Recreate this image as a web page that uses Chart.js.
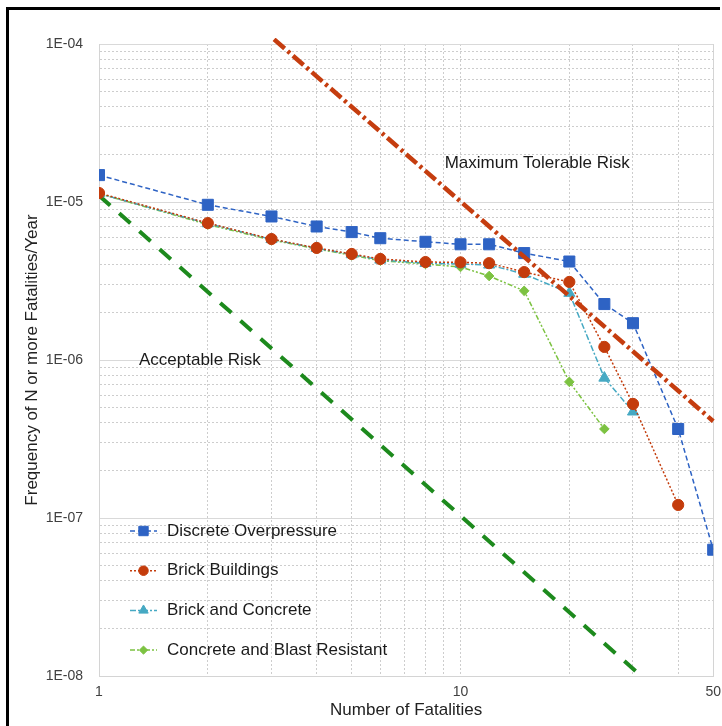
<!DOCTYPE html>
<html lang="en">

<head>
    <meta charset="UTF-8">
    <title>F-N Curve</title>
    <script src="https://cdn.jsdelivr.net/npm/chart.js"></script>
    <style>
        body {
            margin: 0;
            background: #fff;
        }

        .frame {
            position: absolute;
            left: 6px;
            top: 7px;
            width: 711px;
            height: 730px;
            border-top: 3px solid #000;
            border-left: 3px solid #000;
        }

        #chart {
            position: absolute;
            left: 0;
            top: 0;
        }
    </style>
</head>

<body>
    <div class="frame"></div>
    <canvas id="chart" width="722" height="726"></canvas>

    <script>
        // number of fatalities (x) for each point
        const nValues = [1, 2, 3, 4, 5, 6, 8, 10, 12, 15, 20, 25, 30, 40, 50];

        // frequencies
        const discreteOverpressure = [1.48e-5, 9.6e-6, 8.1e-6, 7.0e-6, 6.45e-6, 5.9e-6, 5.6e-6, 5.4e-6, 5.4e-6, 4.75e-6, 4.2e-6, 2.26e-6, 1.71e-6, 3.66e-7, 6.3e-8];
        const brickBuildings = [1.14e-5, 7.35e-6, 5.83e-6, 5.12e-6, 4.69e-6, 4.36e-6, 4.17e-6, 4.15e-6, 4.1e-6, 3.6e-6, 3.12e-6, 1.21e-6, 5.27e-7, 1.21e-7];
        const brickAndConcrete = [1.13e-5, 7.3e-6, 5.8e-6, 5.1e-6, 4.65e-6, 4.3e-6, 4.1e-6, 4.05e-6, 4.0e-6, 3.5e-6, 2.65e-6, 7.7e-7, 4.7e-7];
        const concreteBlast = [1.13e-5, 7.2e-6, 5.75e-6, 5.05e-6, 4.6e-6, 4.25e-6, 4.05e-6, 3.88e-6, 3.4e-6, 2.74e-6, 7.27e-7, 3.66e-7];

        // criterion lines (end points)
        const maxTolerableN = [3.05, 50];
        const maxTolerableF = [1.07e-4, 4.1e-7];
        const acceptableN = [1, 31.6];
        const acceptableF = [1.1e-5, 1.0e-8];

        // axis ticks
        const xTicks = [1, 2, 3, 4, 5, 6, 7, 8, 9, 10, 20, 30, 40, 50];
        const xTickLabels = { 1: "1", 10: "10", 50: "50" };
        const yDecades = [1e-8, 1e-7, 1e-6, 1e-5, 1e-4];
        const yTickLabels = ["1E-08", "1E-07", "1E-06", "1E-05", "1E-04"];

        const FONT = "'Liberation Sans', Arial, sans-serif";

        function toPoints(xs, ys) {
            return ys.map((y, i) => ({ x: xs[i], y: y }));
        }

        function yTickList() {
            const out = [];
            for (let d = 0; d < yDecades.length - 1; d++) {
                for (let k = 1; k <= 9; k++) out.push(yDecades[d] * k);
            }
            out.push(yDecades[yDecades.length - 1]);
            return out;
        }

        function isDecade(v) {
            const l = Math.log10(v);
            return Math.abs(l - Math.round(l)) < 1e-6;
        }

        const seriesDefs = [
            { label: "Discrete Overpressure", data: discreteOverpressure, color: "#2e63c4", dash: [5, 3], style: "rect", radius: 7.8 },
            { label: "Brick Buildings", data: brickBuildings, color: "#c43c0c", dash: [2, 2], style: "circle", radius: 5.6 },
            { label: "Brick and Concrete", data: brickAndConcrete, color: "#46a9c3", dash: [6, 2, 2, 2], style: "triangle", radius: 6.4 },
            { label: "Concrete and Blast Resistant", data: concreteBlast, color: "#7cc241", dash: [5, 2, 2, 2, 2, 2], style: "rectRot", radius: 4.8 },
        ];

        const datasets = [{
            label: "Maximum Tolerable Risk",
            data: toPoints(maxTolerableN, maxTolerableF),
            borderColor: "#c53d0f",
            borderWidth: 4.5,
            borderDash: [14, 4, 3, 4],
            pointRadius: 0,
            fill: false,
            clip: 6,
        }];
        seriesDefs.forEach((s) => {
            datasets.push({
                label: s.label,
                data: toPoints(nValues, s.data),
                borderColor: s.color,
                backgroundColor: s.color,
                borderWidth: 1.5,
                borderDash: s.dash,
                pointStyle: s.style,
                pointRadius: s.radius,
                pointHoverRadius: s.radius,
                pointBackgroundColor: s.color,
                pointBorderColor: s.color,
                pointBorderWidth: 1,
                fill: false,
                tension: 0,
                isSeries: true,
            });
        });
        datasets.push({
            label: "Acceptable Risk",
            data: toPoints(acceptableN, acceptableF),
            borderColor: "#1d8a1d",
            borderWidth: 4,
            borderDash: [15, 12],
            pointRadius: 0,
            fill: false,
        });

        // text labels on the criterion lines, in data coordinates
        const notes = [
            { text: "Maximum Tolerable Risk", n: 9.04, f: 1.77e-5 },
            { text: "Acceptable Risk", n: 1.29, f: 1.0e-6 },
        ];

        const notesPlugin = {
            id: "notes",
            afterDatasetsDraw(chart) {
                const { ctx, scales } = chart;
                ctx.save();
                ctx.font = "17px " + FONT;
                ctx.fillStyle = "#1a1a1a";
                ctx.textAlign = "left";
                ctx.textBaseline = "middle";
                notes.forEach((nt) => {
                    ctx.fillText(nt.text, scales.x.getPixelForValue(nt.n), scales.y.getPixelForValue(nt.f));
                });
                ctx.restore();
            }
        };

        // legend inside the plot, bottom left, line + marker like the original
        const legendPlugin = {
            id: "insideLegend",
            afterDraw(chart) {
                const { ctx, chartArea } = chart;
                const items = chart.data.datasets.filter((d) => d.isSeries);
                ctx.save();
                items.forEach((ds, i) => {
                    const y = chartArea.bottom - 145 + i * 39.7;
                    const x0 = chartArea.left + 31;
                    const x1 = x0 + 27;
                    ctx.strokeStyle = ds.borderColor;
                    ctx.lineWidth = 1.5;
                    ctx.setLineDash(ds.borderDash);
                    ctx.beginPath();
                    ctx.moveTo(x0, y);
                    ctx.lineTo(x1, y);
                    ctx.stroke();
                    ctx.setLineDash([]);
                    ctx.fillStyle = ds.pointBackgroundColor;
                    ctx.strokeStyle = ds.pointBorderColor;
                    ctx.lineWidth = 1;
                    Chart.helpers.drawPoint(ctx, { pointStyle: ds.pointStyle, radius: ds.pointRadius * 0.85, rotation: 0, borderWidth: 1 }, (x0 + x1) / 2, y);
                    ctx.font = "17px " + FONT;
                    ctx.fillStyle = "#1a1a1a";
                    ctx.textAlign = "left";
                    ctx.textBaseline = "middle";
                    ctx.fillText(ds.label, x1 + 10, y);
                });
                ctx.restore();
            }
        };

        const ctx = document.getElementById("chart").getContext("2d");
        new Chart(ctx, {
            type: "line",
            data: { datasets: datasets },
            plugins: [notesPlugin, legendPlugin],
            options: {
                responsive: false,
                animation: false,
                layout: { padding: { top: 44, right: 0, left: 0, bottom: 0 } },
                plugins: {
                    legend: { display: false },
                    tooltip: { enabled: false },
                },
                scales: {
                    x: {
                        type: "logarithmic",
                        min: 1,
                        max: 50,
                        afterBuildTicks: (scale) => { scale.ticks = xTicks.map((v) => ({ value: v })); },
                        afterFit: (scale) => {
                            scale.height = 50;
                            scale.paddingLeft = 0;
                            scale.paddingRight = 8;
                        },
                        ticks: {
                            autoSkip: false,
                            maxRotation: 0,
                            padding: 8,
                            color: "#404040",
                            font: { family: FONT, size: 14 },
                            callback: (v) => xTickLabels[v] || "",
                        },
                        grid: {
                            drawTicks: false,
                            color: (c) => (c.tick && (c.tick.value === 1 || c.tick.value === 50)) ? "#d4d4d4" : "#cdcdcd",
                            lineWidth: 1,
                        },
                        border: {
                            color: "#d4d4d4",
                            dash: (c) => (c.tick && (c.tick.value === 1 || c.tick.value === 50)) ? [] : [2, 2],
                        },
                        title: {
                            display: true,
                            text: "Number of Fatalities",
                            color: "#222",
                            font: { family: FONT, size: 17 },
                            padding: { top: 0, bottom: 5 },
                        },
                    },
                    y: {
                        type: "logarithmic",
                        min: 1e-8,
                        max: 1e-4,
                        afterBuildTicks: (scale) => { scale.ticks = yTickList().map((v) => ({ value: v })); },
                        afterFit: (scale) => { scale.width = 99; },
                        ticks: {
                            autoSkip: false,
                            padding: 16,
                            color: "#404040",
                            font: { family: FONT, size: 14 },
                            callback: (v) => {
                                const i = yDecades.findIndex((d) => Math.abs(Math.log10(d) - Math.log10(v)) < 1e-6);
                                return i >= 0 ? yTickLabels[i] : "";
                            },
                        },
                        grid: {
                            drawTicks: false,
                            color: (c) => (c.tick && isDecade(c.tick.value)) ? "#d9d9d9" : "#cdcdcd",
                            lineWidth: 1,
                        },
                        border: {
                            color: "#d4d4d4",
                            dash: (c) => (c.tick && isDecade(c.tick.value)) ? [] : [2, 2],
                        },
                        title: {
                            display: true,
                            text: "Frequency of N or more Fatalities/Year",
                            color: "#222",
                            font: { family: FONT, size: 17 },
                            padding: { top: 22, bottom: 0 },
                        },
                    },
                },
            },
        });
    </script>
</body>

</html>
